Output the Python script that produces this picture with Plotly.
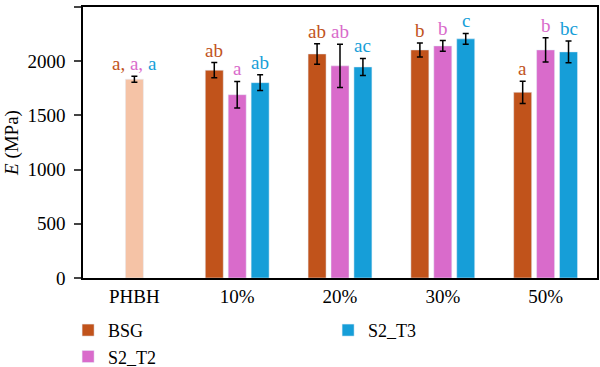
import plotly.graph_objects as go

categories = ["PHBH", "10%", "20%", "30%", "50%"]
groups = ["10%", "20%", "30%", "50%"]

phbh_value = [1834]
phbh_err = [28]

bsg = [1917, 2067, 2104, 1713]
bsg_err = [70, 94, 65, 103]
s2t2 = [1691, 1957, 2141, 2104]
s2t2_err = [122, 200, 50, 112]
s2t3 = [1802, 1947, 2206, 2086]
s2t3_err = [72, 78, 50, 101]

bsg_letters = ["ab", "ab", "b", "a"]
s2t2_letters = ["a", "ab", "b", "b"]
s2t3_letters = ["ab", "ac", "c", "bc"]
phbh_letters = ["a,", "a,", "a"]

C_BSG = "#C1531B"
C_T2 = "#D96BCB"
C_T3 = "#169ED8"
C_PH = "#F5C3A6"

FONT = "Liberation Serif, Times New Roman, serif"
W = 0.175
STEP = 0.223

fig = go.Figure()

err_style = dict(type="data", color="black", thickness=1.5, width=3)

fig.add_trace(go.Bar(x=["PHBH"], y=phbh_value, error_y=dict(array=phbh_err, **err_style),
                     marker_color=C_PH, width=W, offset=-W / 2, showlegend=False))

series = [
    ("BSG", bsg, bsg_err, C_BSG, -STEP, bsg_letters, 1),
    ("S2_T2", s2t2, s2t2_err, C_T2, 0.0, s2t2_letters, 3),
    ("S2_T3", s2t3, s2t3_err, C_T3, STEP, s2t3_letters, 2),
]
for name, vals, errs, col, dx, letters, rank in series:
    fig.add_trace(go.Bar(x=groups, y=vals, name=name,
                         error_y=dict(array=errs, **err_style),
                         marker_color=col, width=W, offset=dx - W / 2,
                         legendrank=rank))
    for g, v, e, t in zip(groups, vals, errs, letters):
        fig.add_annotation(x=categories.index(g) + dx, y=v + e, text=t,
                           showarrow=False, yanchor="bottom", yshift=0,
                           font=dict(family=FONT, size=19, color=col))

ph_text = (f'<span style="color:{C_BSG}">{phbh_letters[0]}</span> '
           f'<span style="color:{C_T2}">{phbh_letters[1]}</span> '
           f'<span style="color:{C_T3}">{phbh_letters[2]}</span>')
fig.add_annotation(x=0, y=phbh_value[0] + phbh_err[0], text=ph_text, showarrow=False,
                   yanchor="bottom", yshift=0, font=dict(family=FONT, size=19))

fig.update_layout(
    width=600, height=367,
    margin=dict(l=83, r=3, t=7, b=89, autoexpand=False),
    barmode="overlay",
    plot_bgcolor="white", paper_bgcolor="white",
    font=dict(family=FONT, size=19, color="black"),
    legend=dict(orientation="h", x=-0.029, xanchor="left", y=-0.125, yanchor="top",
                entrywidth=215, entrywidthmode="pixels",
                font=dict(family=FONT, size=18), tracegroupgap=0,
                itemwidth=30),
    xaxis=dict(categoryorder="array", categoryarray=categories, range=[-0.5, 4.5],
               showline=True, linecolor="black", linewidth=1.5, mirror=True,
               ticks="", showgrid=False, tickfont=dict(size=19)),
    yaxis=dict(range=[0, 2500], dtick=500, showline=True, linecolor="black", linewidth=1.5,
               mirror=True, ticks="outside", ticklen=7, tickwidth=1.5, showgrid=False,
               zeroline=False, tickfont=dict(size=19), ticklabelstandoff=5,
               title=dict(text="<i>E</i> (MPa)", font=dict(size=19), standoff=4)),
)

fig.write_html("out.html", config={"displayModeBar": False},
               post_script="document.body.style.margin='0';")
